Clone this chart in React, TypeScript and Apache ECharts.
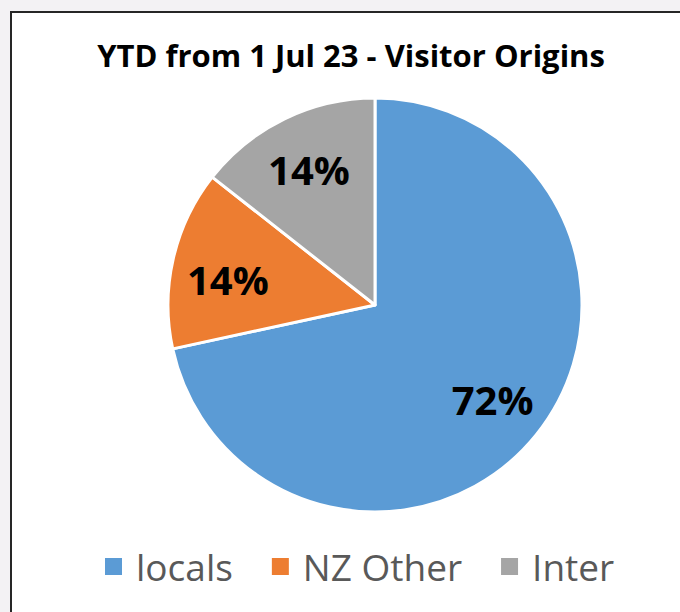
import React, { useEffect, useRef } from "react";
import * as echarts from "echarts";

const TITLE = "YTD from 1 Jul 23 - Visitor Origins";
const CATEGORIES = ["locals", "NZ Other", "Inter"];
const VALUES = [71.6, 14.0, 14.4];
const COLORS = ["#5B9BD5", "#ED7D31", "#A5A5A5"];

export default function App() {
  const ref = useRef<HTMLDivElement>(null);

  useEffect(() => {
    if (!ref.current) return;
    const chart = echarts.init(ref.current, undefined, { renderer: "svg" });
    const data = CATEGORIES.map((name, i) => ({
      name,
      value: VALUES[i],
      itemStyle: { color: COLORS[i] },
    }));
    const font = "'Open Sans', 'Noto Sans', sans-serif";
    chart.setOption({
      animation: false,
      backgroundColor: "#f3f2f4",
      graphic: [
        {
          type: "rect",
          z: -10,
          silent: true,
          shape: { x: 11, y: 12, width: 700, height: 700 },
          style: { fill: "#ffffff", stroke: "#262626", lineWidth: 2 },
        },
      ],
      title: {
        text: TITLE,
        left: 351,
        top: 39,
        padding: 0,
        textAlign: "center",
        textStyle: {
          fontFamily: font,
          fontWeight: "bold",
          fontSize: 31,
          color: "#000000",
        },
      },
      legend: {
        data: CATEGORIES,
        left: 98,
        top: 543,
        icon: "rect",
        itemWidth: 19,
        itemHeight: 19,
        itemGap: 37,
        textStyle: {
          fontFamily: font,
          fontSize: 37,
          color: "#595959",
          padding: [0, 0, 0, 8],
        },
      },
      series: [
        {
          type: "pie",
          center: [375, 305],
          radius: [0, 207],
          startAngle: 90,
          clockwise: true,
          data,
          label: { show: false },
          labelLine: { show: false },
          itemStyle: { borderColor: "#ffffff", borderWidth: 3 },
          emphasis: { disabled: true },
        },
        {
          type: "pie",
          center: [375, 305],
          radius: [89, 207],
          startAngle: 90,
          clockwise: true,
          silent: true,
          legendHoverLink: false,
          percentPrecision: 0,
          data: CATEGORIES.map((name, i) => ({ name, value: VALUES[i] })),
          itemStyle: { color: "rgba(0,0,0,0)", borderWidth: 0 },
          label: {
            show: true,
            position: "inside",
            formatter: "{d}%",
            fontFamily: font,
            fontWeight: "bold",
            fontSize: 40,
            color: "#000000",
          },
          labelLayout: (p: any) => (p.dataIndex === 1 ? { dy: 8 } : {}),
          labelLine: { show: false },
          emphasis: { disabled: true },
        },
      ],
    });
    return () => chart.dispose();
  }, []);

  return (
    <div
      ref={ref}
      style={{ position: "fixed", left: 0, top: 0, width: 680, height: 612 }}
    />
  );
}
